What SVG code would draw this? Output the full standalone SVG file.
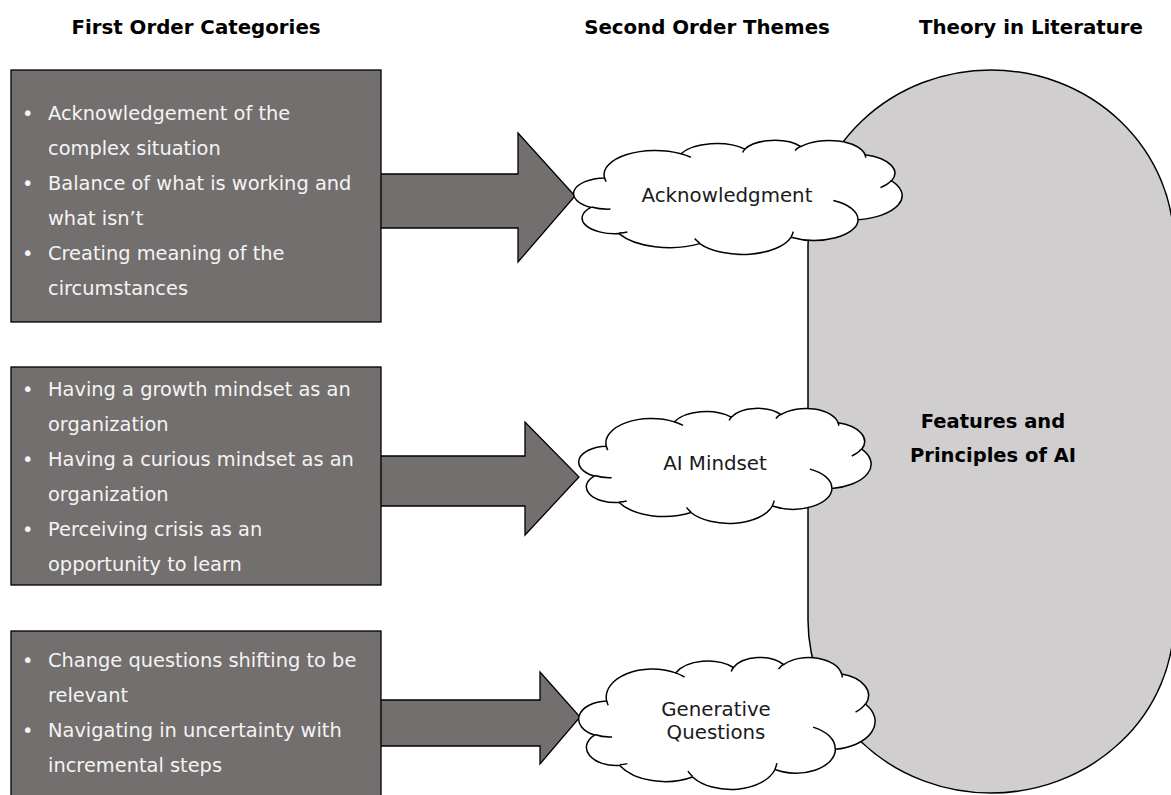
<svg xmlns="http://www.w3.org/2000/svg" xmlns:xlink="http://www.w3.org/1999/xlink" width="1171" height="795" viewBox="0 0 1171 795">
<style>
.hdr{font-family:"DejaVu Sans","Verdana",sans-serif;font-weight:bold;font-size:19.8px;fill:#000;text-anchor:middle}
.box{fill:#736F6E;stroke:#000;stroke-width:1.3}
.arrow{fill:#736F6E;stroke:#000;stroke-width:1.3;stroke-linejoin:miter}
.btxt{font-family:"DejaVu Sans","Verdana",sans-serif;font-size:19.4px;fill:#F4F4F4}
.cloud{fill:#fff;stroke:#000;stroke-width:1.5}
.cloudin{fill:none;stroke:#000;stroke-width:1.5}
.ctxt{font-family:"DejaVu Sans","Verdana",sans-serif;font-size:19.8px;fill:#1a1a1a;text-anchor:middle}
.big{fill:#D0CECF;stroke:#000;stroke-width:1.5}
.bigtxt{font-family:"DejaVu Sans","Verdana",sans-serif;font-weight:bold;font-size:19.5px;fill:#000;text-anchor:middle}
</style>
<defs>
<path id="cloudShape" vector-effect="non-scaling-stroke" d="M3900,14370 A6753,9190 0 0 1 14005,5202 A5333,7267 0 0 1 22457,3434 A4365,5945 0 0 1 29834,2484 A4857,6595 0 0 1 38318,5580 A5333,7273 0 0 1 41818,15464 A6775,9220 0 0 1 37404,30207 A5785,7867 0 0 1 28555,36817 A6752,9215 0 0 1 16480,39270 A7720,10543 0 0 1 5804,35477 A4360,5918 0 0 1 2114,25555 A4345,5945 0 0 1 3900,14370 Z"/>
<path id="cloudInner" vector-effect="non-scaling-stroke" d="M4693,26177 A4345,5945 0 0 1 2160,25380 M6928,34899 A4360,5918 0 0 1 5819,35281 M16478,39090 A6752,9215 0 0 1 15810,37348 M28827,34751 A6752,9215 0 0 1 28561,36659 M34129,22954 A5785,7867 0 0 1 37381,30090 M41798,15354 A5333,7273 0 0 1 40350,18031 M38324,5426 A4857,6595 0 0 1 38401,6691 M29078,3952 A4857,6595 0 0 1 29822,2337 M22141,4720 A4365,5945 0 0 1 22500,3330 M14000,5192 A6753,9190 0 0 1 15302,6543 M4127,15789 A6753,9190 0 0 1 3900,14370"/>
</defs>

<g id="headers">
<text class="hdr" x="196" y="34">First Order Categories</text>
<text class="hdr" x="707" y="34">Second Order Themes</text>
<text class="hdr" x="1031" y="34">Theory in Literature</text>
</g>

<g id="theory">
<path class="big" d="M808,245 A183,175 0 0 1 1174,245 L1174,620 A183,173 0 0 1 808,620 Z"/>
<text class="bigtxt" x="993" y="428">Features and</text>
<text class="bigtxt" x="993" y="462">Principles of AI</text>
</g>

<g id="connectors">
<polygon class="arrow" points="370,174 518,174 518,133 575,196 518,262 518,228 370,228"/>
<polygon class="arrow" points="370,456 525,456 525,422 579,477 525,535 525,506 370,506"/>
<polygon class="arrow" points="370,700 540,700 540,672 580,717 540,764 540,746 370,746"/>
</g>

<g id="cat1">
<rect class="box" x="11" y="70" width="370" height="252"/>
<text class="btxt" x="22" y="120">•</text><text class="btxt" x="48" y="120">Acknowledgement of the</text>
<text class="btxt" x="48" y="155">complex situation</text>
<text class="btxt" x="22" y="190">•</text><text class="btxt" x="48" y="190">Balance of what is working and</text>
<text class="btxt" x="48" y="225">what isn’t</text>
<text class="btxt" x="22" y="260">•</text><text class="btxt" x="48" y="260">Creating meaning of the</text>
<text class="btxt" x="48" y="295">circumstances</text>
</g>

<g id="cat2">
<rect class="box" x="11" y="367" width="370" height="218"/>
<text class="btxt" x="22" y="396">•</text><text class="btxt" x="48" y="396">Having a growth mindset as an</text>
<text class="btxt" x="48" y="431">organization</text>
<text class="btxt" x="22" y="466">•</text><text class="btxt" x="48" y="466">Having a curious mindset as an</text>
<text class="btxt" x="48" y="501">organization</text>
<text class="btxt" x="22" y="536">•</text><text class="btxt" x="48" y="536">Perceiving crisis as an</text>
<text class="btxt" x="48" y="571">opportunity to learn</text>
</g>

<g id="cat3">
<rect class="box" x="11" y="631" width="370" height="180"/>
<text class="btxt" x="22" y="667">•</text><text class="btxt" x="48" y="667">Change questions shifting to be</text>
<text class="btxt" x="48" y="702">relevant</text>
<text class="btxt" x="22" y="737">•</text><text class="btxt" x="48" y="737">Navigating in uncertainty with</text>
<text class="btxt" x="48" y="772">incremental steps</text>
</g>

<g id="theme1">
<g transform="translate(575,140) scale(0.0075694,0.0026389)">
<use xlink:href="#cloudShape" class="cloud"/>
<use xlink:href="#cloudInner" class="cloudin"/>
</g>
<text class="ctxt" x="727" y="202">Acknowledgment</text>
</g>

<g id="theme2">
<g transform="translate(580,408) scale(0.0067361,0.0026620)">
<use xlink:href="#cloudShape" class="cloud"/>
<use xlink:href="#cloudInner" class="cloudin"/>
</g>
<text class="ctxt" x="715" y="470">AI Mindset</text>
</g>

<g id="theme3">
<g transform="translate(580,657) scale(0.0068287,0.0030556)">
<use xlink:href="#cloudShape" class="cloud"/>
<use xlink:href="#cloudInner" class="cloudin"/>
</g>
<text class="ctxt" x="716" y="716">Generative</text>
<text class="ctxt" x="716" y="739">Questions</text>
</g>
</svg>
